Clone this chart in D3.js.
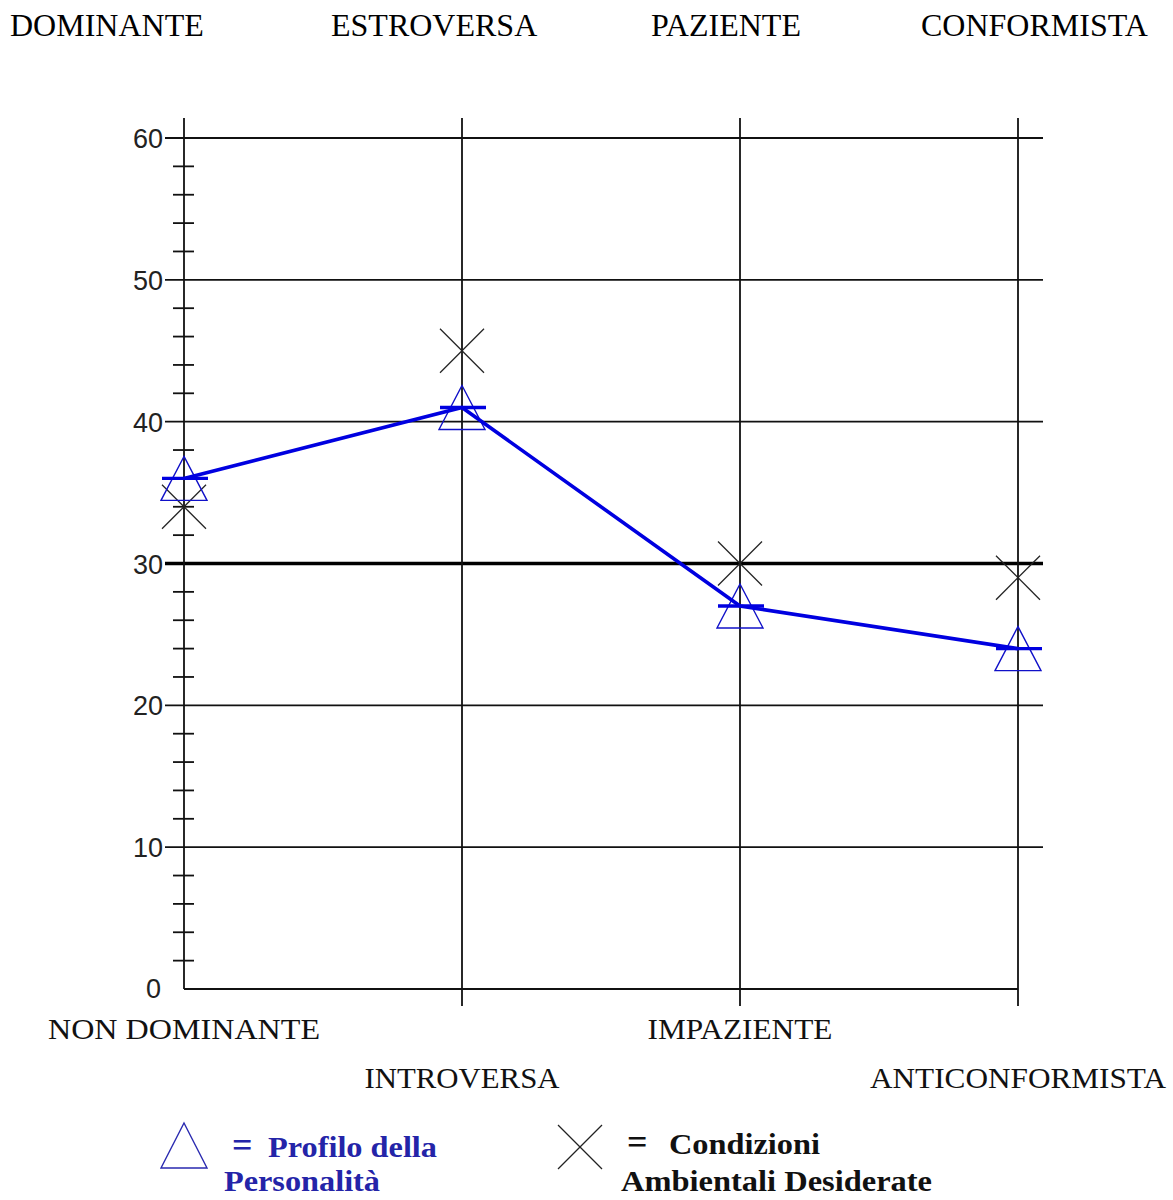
<!DOCTYPE html>
<html>
<head>
<meta charset="utf-8">
<script src="https://cdn.jsdelivr.net/npm/d3@7"></script>
<style>
  html, body { margin: 0; padding: 0; background: #fff; }
  svg { display: block; }
</style>
</head>
<body>
<svg id="chart" width="1173" height="1200"></svg>
<script>
// ---- data ----
const categories = ["NON DOMINANTE", "INTROVERSA", "IMPAZIENTE", "ANTICONFORMISTA"];
const topLabels = ["DOMINANTE", "ESTROVERSA", "PAZIENTE", "CONFORMISTA"];
const profilo = [36, 41, 27, 24];          // Profilo della Personalità (triangles, blue line)
const condizioni = [34, 45, 30, 29];       // Condizioni Ambientali Desiderate (X marks)
const majorTicks = [0, 10, 20, 30, 40, 50, 60];
const minorTicks = [2, 4, 6, 8, 12, 14, 16, 18, 22, 24, 26, 28, 32, 34, 36, 38, 42, 44, 46, 48, 52, 54, 56, 58];
const referenceValue = 30;

// ---- layout ----
const svg = d3.select("#chart");
const x = d3.scalePoint().domain(categories).range([184, 1018]);
const y = d3.scaleLinear().domain([0, 60]).range([989, 138]);
const yTop = 118, xLeftGrid = 165, xRightGrid = 1043;
const serif = "'Liberation Serif', 'Times New Roman', serif";

// top labels
const topX = [10, 331, 651, 921];
svg.selectAll("text.top").data(topLabels).join("text")
  .attr("class", "top")
  .attr("x", (d, i) => topX[i]).attr("y", 36)
  .attr("font-family", serif).attr("font-size", 32).attr("fill", "#000")
  .text(d => d);

// horizontal grid lines (10..60)
svg.selectAll("line.hgrid").data(majorTicks.filter(v => v > 0)).join("line")
  .attr("class", "hgrid")
  .attr("x1", xLeftGrid).attr("x2", xRightGrid)
  .attr("y1", d => y(d)).attr("y2", d => y(d))
  .attr("stroke", d => d === referenceValue ? "#000" : "#111")
  .attr("stroke-width", d => d === referenceValue ? 3.5 : 1.8);

// baseline at 0
svg.append("line")
  .attr("x1", x(categories[0])).attr("x2", x(categories[categories.length - 1]))
  .attr("y1", y(0)).attr("y2", y(0))
  .attr("stroke", "#111").attr("stroke-width", 1.8);

// y axis
svg.append("line")
  .attr("x1", x(categories[0])).attr("x2", x(categories[0]))
  .attr("y1", yTop).attr("y2", y(0))
  .attr("stroke", "#111").attr("stroke-width", 1.8);

// vertical grid lines at other categories
svg.selectAll("line.vgrid").data(categories.slice(1)).join("line")
  .attr("class", "vgrid")
  .attr("x1", d => x(d)).attr("x2", d => x(d))
  .attr("y1", yTop).attr("y2", 1006)
  .attr("stroke", "#111").attr("stroke-width", 1.8);

// minor ticks
svg.selectAll("line.minor").data(minorTicks).join("line")
  .attr("class", "minor")
  .attr("x1", x(categories[0]) - 11).attr("x2", x(categories[0]) + 10)
  .attr("y1", d => y(d)).attr("y2", d => y(d))
  .attr("stroke", "#111").attr("stroke-width", 1.8);

// tick labels
svg.selectAll("text.ytick").data(majorTicks).join("text")
  .attr("class", "ytick")
  .attr("x", d => d === 0 ? 161 : 163).attr("y", d => y(d) + (d === 0 ? 9 : 10))
  .attr("text-anchor", "end")
  .attr("font-family", "'Liberation Sans', Arial, sans-serif")
  .attr("font-size", 27).attr("fill", "#222")
  .text(d => d);

// category labels
const catBaseline = [1039, 1088, 1039, 1088];
const catWidths = [272, 195, 185, 296];
svg.selectAll("text.cat").data(categories).join("text")
  .attr("class", "cat")
  .attr("x", d => x(d) - catWidths[categories.indexOf(d)] / 2)
  .attr("y", (d, i) => catBaseline[i])
  .attr("font-family", serif).attr("font-size", 29).attr("fill", "#111")
  .attr("textLength", (d, i) => catWidths[i]).attr("lengthAdjust", "spacingAndGlyphs")
  .text(d => d);

// X markers (condizioni)
const xs = 22;
const xm = svg.append("g").selectAll("g").data(condizioni).join("g")
  .attr("transform", (d, i) => `translate(${x(categories[i])},${y(d)})`);
xm.append("line").attr("x1", -xs).attr("y1", -xs).attr("x2", xs).attr("y2", xs)
  .attr("stroke", "#222").attr("stroke-width", 1.3);
xm.append("line").attr("x1", -xs).attr("y1", xs).attr("x2", xs).attr("y2", -xs)
  .attr("stroke", "#222").attr("stroke-width", 1.3);

// triangle markers (profilo)
const tri = "M0,-22 L23,22 L-23,22 Z";
svg.append("g").selectAll("path").data(profilo).join("path")
  .attr("transform", (d, i) => `translate(${x(categories[i])},${y(d)})`)
  .attr("d", tri)
  .attr("fill", "none").attr("stroke", "#1010c8").attr("stroke-width", 1.4);

// blue line
const line = d3.line().x((d, i) => x(categories[i])).y(d => y(d));
svg.append("path").datum(profilo)
  .attr("d", line)
  .attr("fill", "none").attr("stroke", "#0000e0").attr("stroke-width", 3.6);

// horizontal blue bars at data points
svg.append("g").selectAll("line").data(profilo).join("line")
  .attr("x1", (d, i) => x(categories[i]) - 22).attr("x2", (d, i) => x(categories[i]) + 24)
  .attr("y1", d => y(d)).attr("y2", d => y(d))
  .attr("stroke", "#0000e0").attr("stroke-width", 3.4);

// ---- legend ----
const lg = svg.append("g");
lg.append("path").attr("transform", "translate(184,1146)")
  .attr("d", "M0,-23 L23,22 L-23,22 Z")
  .attr("fill", "none").attr("stroke", "#2a2ab0").attr("stroke-width", 1.4);
const blueText = "#2424a8";
lg.append("text").attr("x", 232).attr("y", 1157)
  .attr("font-family", serif).attr("font-weight", "bold").attr("font-size", 36).attr("fill", blueText)
  .text("=");
lg.append("text").attr("x", 268).attr("y", 1157)
  .attr("font-family", serif).attr("font-weight", "bold").attr("font-size", 30).attr("fill", blueText)
  .attr("textLength", 169).attr("lengthAdjust", "spacingAndGlyphs")
  .text("Profilo della");
lg.append("text").attr("x", 224).attr("y", 1191)
  .attr("font-family", serif).attr("font-weight", "bold").attr("font-size", 30).attr("fill", blueText)
  .attr("textLength", 156).attr("lengthAdjust", "spacingAndGlyphs")
  .text("Personalità");

const lx = lg.append("g").attr("transform", "translate(580,1147)");
lx.append("line").attr("x1", -22).attr("y1", -22).attr("x2", 22).attr("y2", 22)
  .attr("stroke", "#222").attr("stroke-width", 1.3);
lx.append("line").attr("x1", -22).attr("y1", 22).attr("x2", 22).attr("y2", -22)
  .attr("stroke", "#222").attr("stroke-width", 1.3);
lg.append("text").attr("x", 627).attr("y", 1154)
  .attr("font-family", serif).attr("font-weight", "bold").attr("font-size", 36).attr("fill", "#111")
  .text("=");
lg.append("text").attr("x", 669).attr("y", 1154)
  .attr("font-family", serif).attr("font-weight", "bold").attr("font-size", 30).attr("fill", "#111")
  .attr("textLength", 151).attr("lengthAdjust", "spacingAndGlyphs")
  .text("Condizioni");
lg.append("text").attr("x", 621).attr("y", 1191)
  .attr("font-family", serif).attr("font-weight", "bold").attr("font-size", 30).attr("fill", "#111")
  .attr("textLength", 311).attr("lengthAdjust", "spacingAndGlyphs")
  .text("Ambientali Desiderate");
</script>
</body>
</html>
